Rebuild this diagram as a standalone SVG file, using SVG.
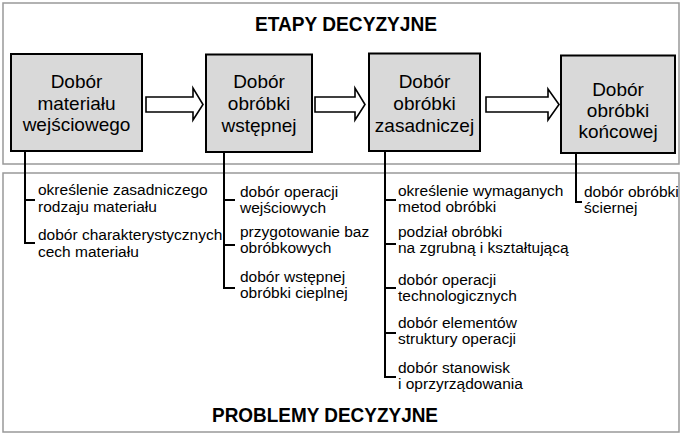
<svg xmlns="http://www.w3.org/2000/svg" width="686" height="437" viewBox="0 0 686 437">
<defs>
<style>
.frame{fill:none;stroke:#999;stroke-width:1.5}
.box{fill:#d9d9d9;stroke:#000;stroke-width:2}
.arrow{fill:#fff;stroke:#000;stroke-width:1.6;stroke-linejoin:miter}
.conn{fill:none;stroke:#000;stroke-width:2}
.bt{font-family:"Liberation Sans",Arial,sans-serif;font-size:19px;fill:#000;text-anchor:middle}
.it{font-family:"Liberation Sans",Arial,sans-serif;font-size:15.5px;fill:#000}
.title{font-family:"Liberation Sans",Arial,sans-serif;font-size:19.5px;font-weight:bold;fill:#000}
</style>
</defs>
<rect width="686" height="437" fill="#fff"/>
<g id="frame-etapy">
<rect class="frame" x="3" y="3" width="676" height="161"/>
<text class="title" x="255" y="31" textLength="182" lengthAdjust="spacingAndGlyphs">ETAPY DECYZYJNE</text>
</g>
<g id="frame-problemy">
<rect class="frame" x="3" y="173" width="676" height="259"/>
<text class="title" x="212" y="422" textLength="226" lengthAdjust="spacingAndGlyphs">PROBLEMY DECYZYJNE</text>
</g>
<g id="node1">
<rect class="box" x="11" y="54" width="131" height="97"/>
<text class="bt" x="76.5" y="88">Dobór</text>
<text class="bt" x="76.5" y="109.5">materiału</text>
<text class="bt" x="76.5" y="131">wejściowego</text>
</g>
<g id="node2">
<rect class="box" x="206" y="54.5" width="106" height="97.5"/>
<text class="bt" x="259" y="88">Dobór</text>
<text class="bt" x="259" y="110">obróbki</text>
<text class="bt" x="259" y="131.5">wstępnej</text>
</g>
<g id="node3">
<rect class="box" x="369" y="53.5" width="111" height="97.5"/>
<text class="bt" x="424.5" y="88">Dobór</text>
<text class="bt" x="424.5" y="110">obróbki</text>
<text class="bt" x="424.5" y="132">zasadniczej</text>
</g>
<g id="node4">
<rect class="box" x="561" y="55.5" width="114" height="97.5"/>
<text class="bt" x="618" y="95.5">Dobór</text>
<text class="bt" x="618" y="116.5">obróbki</text>
<text class="bt" x="618" y="137.5">końcowej</text>
</g>
<g id="connectors">
<polygon class="arrow" points="146,97 193,97 193,88 203,104.5 193,120 193,112 146,112"/>
<polygon class="arrow" points="315,97 355,97 355,88 365,104.5 355,120 355,112 315,112"/>
<polygon class="arrow" points="486,97 548,97 548,89 559,104.5 548,120 548,112 486,112"/>
<path class="conn" d="M25,151 V243 H35 M25,200 H35"/>
<path class="conn" d="M224,152 V288 H235 M224,200 H235 M224,245 H235"/>
<path class="conn" d="M385,151 V377 H396 M385,200 H396 M385,244 H396 M385,288 H396 M385,333 H396"/>
<path class="conn" d="M576,153 V202 H582"/>
</g>
<g id="items1">
<text class="it" x="38" y="195">określenie zasadniczego</text>
<text class="it" x="38" y="211.5">rodzaju materiału</text>
<text class="it" x="38" y="240">dobór charakterystycznych</text>
<text class="it" x="38" y="256.5">cech materiału</text>
</g>
<g id="items2">
<text class="it" x="240" y="196.5">dobór operacji</text>
<text class="it" x="240" y="212.5">wejściowych</text>
<text class="it" x="240" y="237">przygotowanie baz</text>
<text class="it" x="240" y="253">obróbkowych</text>
<text class="it" x="240" y="282">dobór wstępnej</text>
<text class="it" x="240" y="298">obróbki cieplnej</text>
</g>
<g id="items3">
<text class="it" x="398" y="196">określenie wymaganych</text>
<text class="it" x="398" y="212">metod obróbki</text>
<text class="it" x="398" y="237">podział obróbki</text>
<text class="it" x="398" y="253">na zgrubną i kształtującą</text>
<text class="it" x="398" y="284.5">dobór operacji</text>
<text class="it" x="398" y="300.5">technologicznych</text>
<text class="it" x="398" y="327.5">dobór elementów</text>
<text class="it" x="398" y="343.5">struktury operacji</text>
<text class="it" x="398" y="372.5">dobór stanowisk</text>
<text class="it" x="398" y="388.5">i oprzyrządowania</text>
</g>
<g id="items4">
<text class="it" x="584" y="197">dobór obróbki</text>
<text class="it" x="584" y="213">ściernej</text>
</g>
</svg>
